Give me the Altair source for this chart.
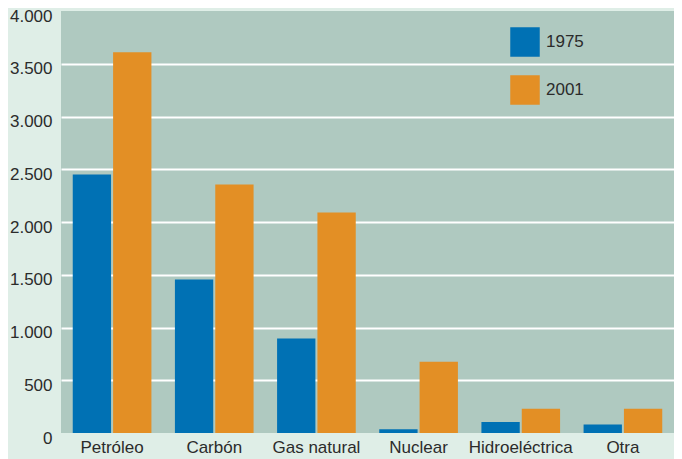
import altair as alt
import pandas as pd

categories = ["Petróleo", "Carbón", "Gas natural", "Nuclear", "Hidroeléctrica", "Otra"]
years = ["1975", "2001"]
values_1975 = [2450, 1455, 895, 35, 105, 80]
values_2001 = [3610, 2355, 2090, 675, 230, 230]
y_ticks = [0, 500, 1000, 1500, 2000, 2500, 3000, 3500, 4000]

rows = []
for c, a, b in zip(categories, values_1975, values_2001):
    rows.append({"cat": c, "year": "1975", "value": a})
    rows.append({"cat": c, "year": "2001", "value": b})
df = pd.DataFrame(rows)

FONT = "Liberation Sans, Arial, sans-serif"
BLUE = "#0071b4"
ORANGE = "#e38f25"
PLOT_BG = "#afc9c0"
OUTER_BG = "#dfeee7"
TEXT = "#2b2b2b"

chart = alt.Chart(df).mark_bar().encode(
    x=alt.X("cat:N", sort=categories,
            scale=alt.Scale(paddingInner=0.23, paddingOuter=0.115),
            axis=alt.Axis(title=None, labelAngle=0, ticks=False, domain=False,
                          labelFontSize=17, labelPadding=6, labelColor=TEXT,
                          labelFont=FONT, grid=False)),
    xOffset=alt.XOffset("year:N", sort=years, scale=alt.Scale(paddingInner=0.05)),
    y=alt.Y("value:Q", scale=alt.Scale(domain=[0, 4000], nice=False),
            axis=alt.Axis(title=None, values=y_ticks, ticks=False, domain=False,
                          labelFontSize=17, labelColor=TEXT, labelFont=FONT,
                          labelPadding=9, labelOffset=5,
                          labelExpr="replace(format(datum.value, ',d'), ',', '.')",
                          grid=True, gridColor="white", gridWidth=2,
                          gridOpacity={"condition": {"test": "datum.value === 0 || datum.value === 4000", "value": 0}, "value": 1})),
    color=alt.Color("year:N", sort=years,
                    scale=alt.Scale(domain=years, range=[BLUE, ORANGE]),
                    legend=alt.Legend(title=None, orient="none", legendX=449, legendY=16,
                                      symbolType="square", symbolSize=870,
                                      symbolStrokeWidth=0, labelFontSize=17,
                                      labelFont=FONT, labelColor=TEXT,
                                      rowPadding=18, labelOffset=6)),
).properties(
    width=613, height=422,
    autosize=alt.AutoSizeParams(type="none"),
    padding={"left": 53, "top": 3, "right": 0, "bottom": 26},
    background=OUTER_BG,
).configure_view(stroke=None, fill=PLOT_BG)

chart.save("out.html", embed_options={"renderer": "svg", "actions": False})
